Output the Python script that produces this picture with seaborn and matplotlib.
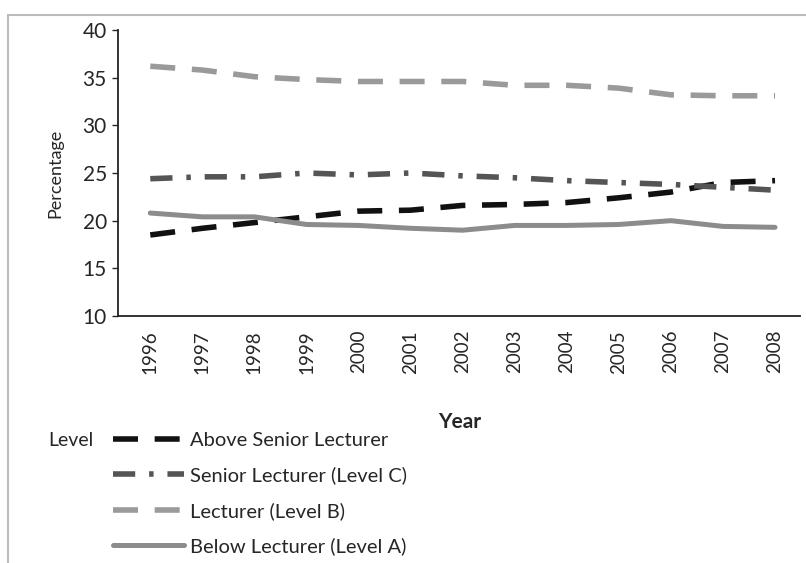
import pandas as pd
import matplotlib.pyplot as plt
import seaborn as sns
from matplotlib.lines import Line2D
from matplotlib.patches import Rectangle

years = [1996, 1997, 1998, 1999, 2000, 2001, 2002, 2003, 2004, 2005, 2006, 2007, 2008]
above_senior = [18.5, 19.2, 19.8, 20.4, 21.0, 21.1, 21.6, 21.7, 21.9, 22.4, 23.0, 24.0, 24.2]
senior_c = [24.4, 24.6, 24.6, 25.0, 24.8, 25.0, 24.7, 24.5, 24.2, 24.0, 23.8, 23.5, 23.2]
lecturer_b = [36.2, 35.8, 35.1, 34.8, 34.6, 34.6, 34.6, 34.2, 34.2, 33.9, 33.2, 33.1, 33.1]
below_a = [20.8, 20.4, 20.4, 19.6, 19.5, 19.2, 19.0, 19.5, 19.5, 19.6, 20.0, 19.4, 19.3]

levels = ["Above Senior Lecturer", "Senior Lecturer (Level C)",
          "Lecturer (Level B)", "Below Lecturer (Level A)"]
values = [above_senior, senior_c, lecturer_b, below_a]

df = pd.DataFrame({
    "Year": years * 4,
    "Percentage": sum(values, []),
    "Level": [lv for lv in levels for _ in years],
})

sns.set_style("white")
plt.rcParams["font.family"] = ["Lato", "DejaVu Sans"]

styles = {
    "Above Senior Lecturer": dict(color="#111111", ls=(0, (4.5, 3)), lw=4),
    "Senior Lecturer (Level C)": dict(color="#555555", ls=(0, (4, 2.5, 0.8, 2.5)), lw=4),
    "Lecturer (Level B)": dict(color="#9a9a9a", ls=(0, (4.5, 3)), lw=4),
    "Below Lecturer (Level A)": dict(color="#8c8c8c", ls="-", lw=3.6),
}

fig = plt.figure(figsize=(8.06, 5.63), dpi=100)
ax = fig.add_axes([118 / 806, 1 - 316 / 563, (800 - 118) / 806, (316 - 30) / 563])

for lv in levels:
    st = styles[lv]
    sns.lineplot(data=df[df["Level"] == lv], x="Year", y="Percentage", ax=ax,
                 color=st["color"], linestyle=st["ls"], linewidth=st["lw"],
                 legend=False)

ax.set_xlim(1995.38, 2008.48)
ax.set_ylim(10, 40)
ax.set_yticks(range(10, 41, 5))
ax.set_xticks(years)
ax.set_xticklabels([str(y) for y in years], rotation=90, fontsize=13.5)
ax.tick_params(axis="y", labelsize=15, length=4, width=1, direction="out", left=True, pad=4)
ax.tick_params(axis="x", length=0, pad=10)
for s in ["top", "right"]:
    ax.spines[s].set_visible(False)
for s in ["left", "bottom"]:
    ax.spines[s].set_color("#222222")
    ax.spines[s].set_linewidth(1.3)
ax.set_xlabel("")
ax.set_ylabel("Percentage", fontsize=13, labelpad=14)

fig.text(460 / 806, 1 - 422 / 563, "Year", fontsize=15, fontweight="bold",
         ha="center", va="center")

handles = [Line2D([0], [0], color=styles[lv]["color"], linestyle=styles[lv]["ls"],
                  linewidth=styles[lv]["lw"]) for lv in levels]
fig.legend(handles, levels, loc="upper left", bbox_to_anchor=(95 / 806, 1 - 414 / 563),
           frameon=False, fontsize=14.5, handlelength=3.5, handletextpad=0.3,
           labelspacing=0.86)
fig.text(48 / 806, 1 - 440 / 563, "Level", fontsize=14, va="center", ha="left")

fig.patches.append(Rectangle((8 / 806, -0.1), 1.0, 1 - 15 / 563 + 0.1,
                             transform=fig.transFigure, fill=False,
                             edgecolor="#bbbbbb", linewidth=1.5))

fig.savefig("out.png", dpi=100)
